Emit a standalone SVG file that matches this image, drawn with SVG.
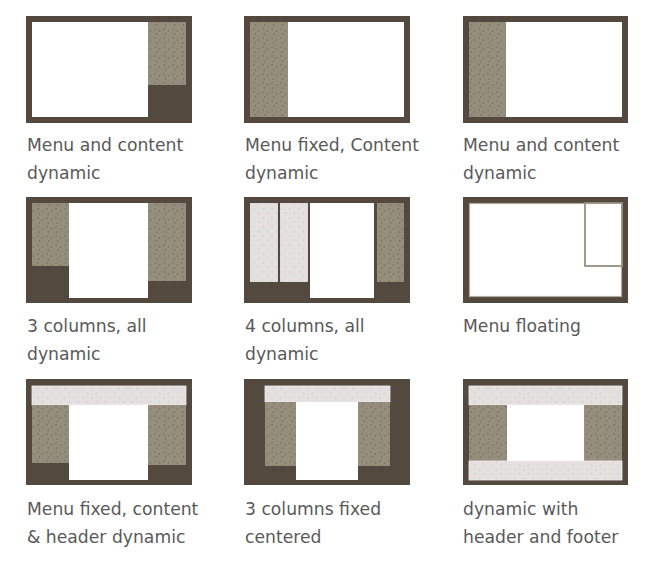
<svg xmlns="http://www.w3.org/2000/svg" width="655" height="566" viewBox="0 0 655 566">
<defs>
<pattern id="tex" width="9" height="9" patternUnits="userSpaceOnUse">
<rect width="9" height="9" fill="#968e7c"/>
<circle cx="2" cy="2" r="0.8" fill="#736b5b"/>
<circle cx="6.5" cy="4" r="0.8" fill="#736b5b"/>
<circle cx="3.5" cy="7" r="0.8" fill="#736b5b"/>
</pattern>
<pattern id="pale" width="9" height="9" patternUnits="userSpaceOnUse">
<rect width="9" height="9" fill="#e6dfdf"/>
<circle cx="2" cy="2" r="0.9" fill="#b5e0cf"/>
<circle cx="6.5" cy="6" r="0.9" fill="#b5e0cf"/>
</pattern>
</defs>
<style>
.frame{fill:#53493f}
.white{fill:#ffffff}
.tex{fill:url(#tex)}
.pale{fill:url(#pale);stroke:#f2eeee;stroke-width:0.8}
.lbl{font-family:"DejaVu Sans",Verdana,sans-serif;font-size:17.2px;fill:#595959}
</style>
<rect width="655" height="566" fill="#ffffff"/>

<g id="n1">
<rect class="frame" x="26" y="16" width="166" height="107"/>
<rect class="white" x="32" y="22" width="116" height="95"/>
<rect class="tex" x="148" y="22" width="38" height="63"/>
<text class="lbl" x="27" y="151">Menu and content</text>
<text class="lbl" x="27" y="179">dynamic</text>
</g>

<g id="n2">
<rect class="frame" x="244" y="16" width="166" height="107"/>
<rect class="white" x="250" y="22" width="154" height="95"/>
<rect class="tex" x="250" y="22" width="38" height="95"/>
<text class="lbl" x="245" y="151">Menu fixed, Content</text>
<text class="lbl" x="245" y="179">dynamic</text>
</g>

<g id="n3">
<rect class="frame" x="463" y="16" width="165" height="107"/>
<rect class="white" x="469" y="22" width="153" height="95"/>
<rect class="tex" x="469" y="22" width="37" height="95"/>
<text class="lbl" x="463" y="151">Menu and content</text>
<text class="lbl" x="463" y="179">dynamic</text>
</g>

<g id="n4">
<rect class="frame" x="26" y="197" width="166" height="106"/>
<rect class="tex" x="32" y="203" width="37" height="63"/>
<rect class="white" x="69" y="203" width="79" height="95"/>
<rect class="tex" x="148" y="203" width="38" height="78"/>
<text class="lbl" x="27" y="332">3 columns, all</text>
<text class="lbl" x="27" y="360">dynamic</text>
</g>

<g id="n5">
<rect class="frame" x="244" y="197" width="166" height="106"/>
<rect class="pale" x="250.5" y="203.5" width="27" height="78"/>
<rect class="pale" x="280.5" y="203.5" width="27" height="78"/>
<rect class="white" x="310" y="203" width="64" height="95"/>
<rect class="tex" x="377" y="203" width="27" height="79"/>
<text class="lbl" x="245" y="332">4 columns, all</text>
<text class="lbl" x="245" y="360">dynamic</text>
</g>

<g id="n6">
<rect class="frame" x="463" y="197" width="165" height="106"/>
<rect class="white" x="469" y="203" width="153" height="94"/>
<rect x="469.5" y="203.5" width="152" height="93" fill="none" stroke="#b3ac9c" stroke-width="1.2"/>
<rect x="585" y="203" width="37" height="63" fill="#ffffff" stroke="#978f7f" stroke-width="1.8"/>
<text class="lbl" x="463" y="332">Menu floating</text>
</g>

<g id="n7">
<rect class="frame" x="26" y="379" width="166" height="106"/>
<rect class="pale" x="32" y="386" width="154" height="19"/>
<rect class="tex" x="32" y="405" width="37" height="58"/>
<rect class="white" x="69" y="405" width="79" height="75"/>
<rect class="tex" x="148" y="405" width="38" height="60"/>
<text class="lbl" x="27" y="515">Menu fixed, content</text>
<text class="lbl" x="27" y="543">&amp; header dynamic</text>
</g>

<g id="n8">
<rect class="frame" x="244" y="379" width="166" height="106"/>
<rect class="pale" x="265" y="386" width="125" height="16"/>
<rect class="tex" x="265" y="402" width="31" height="64"/>
<rect class="white" x="296" y="402" width="62" height="78"/>
<rect class="tex" x="358" y="402" width="32" height="64"/>
<text class="lbl" x="245" y="515">3 columns fixed</text>
<text class="lbl" x="245" y="543">centered</text>
</g>

<g id="n9">
<rect class="frame" x="463" y="379" width="165" height="106"/>
<rect class="pale" x="469" y="386" width="153" height="19"/>
<rect class="tex" x="469" y="405" width="38" height="56"/>
<rect class="white" x="507" y="405" width="77" height="56"/>
<rect class="tex" x="584" y="405" width="38" height="56"/>
<rect class="pale" x="469" y="461" width="153" height="19"/>
<text class="lbl" x="463" y="515">dynamic with</text>
<text class="lbl" x="463" y="543">header and footer</text>
</g>

<g id="connectors"></g>
</svg>
